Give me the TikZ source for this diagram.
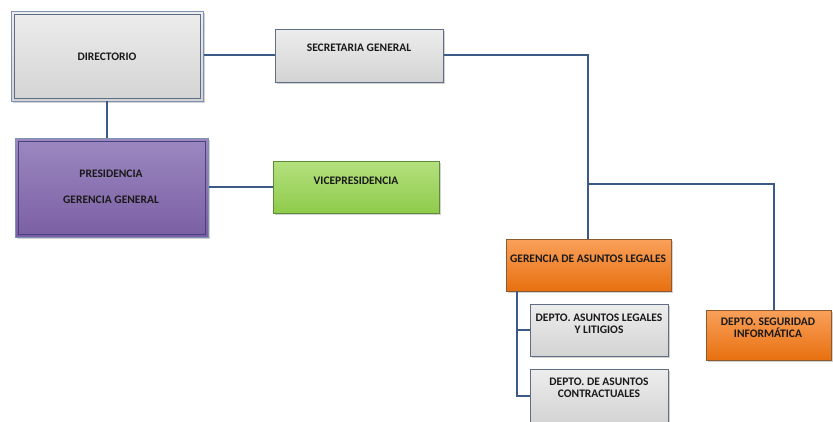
\documentclass[tikz,border=0pt]{standalone}
\usepackage{fontspec}
\setmainfont{Carlito}[BoldFont={Carlito Bold}]
\usetikzlibrary{positioning}
\definecolor{lnc}{HTML}{3B5A86}
\definecolor{gbord}{HTML}{5F6E84}
\definecolor{gtop}{HTML}{EDEDED}
\definecolor{gbot}{HTML}{D3D3D3}
\definecolor{ptop}{HTML}{9C88C0}
\definecolor{pbot}{HTML}{7A5FA4}
\definecolor{pbord}{HTML}{45427E}
\definecolor{vtop}{HTML}{B4E07E}
\definecolor{vbot}{HTML}{8ECB4B}
\definecolor{vbord}{HTML}{5E8A3A}
\definecolor{otop}{HTML}{F9A05A}
\definecolor{obot}{HTML}{E8700F}
\definecolor{obord}{HTML}{8A5A30}
\definecolor{dtop}{HTML}{7D92B5}
\tikzset{
  boxbase/.style={draw, line width=0.8pt, inner sep=0pt, anchor=north west},
  shadowed/.style={preaction={fill=black!35, opacity=0.5, transform canvas={xshift=2pt,yshift=-2pt}}},
  graybox/.style={boxbase, draw=gbord, top color=gtop, bottom color=gbot, shadowed},
  purplebox/.style={boxbase, draw=pbord, top color=ptop, bottom color=pbot, shadowed},
  greenbox/.style={boxbase, draw=vbord, top color=vtop, bottom color=vbot, shadowed},
  orangebox/.style={boxbase, draw=obord, top color=otop, bottom color=obot, shadowed},
  txt/.style={font=\bfseries\fontsize{11.5}{12.5}\selectfont, text=black!90, align=center, inner sep=0pt},
  conn/.style={draw=lnc, line width=1.3pt}
}
\begin{document}
\begin{tikzpicture}[x=1pt,y=-1pt]
\useasboundingbox (0,0) rectangle (833,421);
% boxes
\node[graybox, draw=dtop, minimum width=192pt, minimum height=90pt] (dir) at (11,11) {};
\draw[gbord, line width=0.8pt] (14,14) rectangle (200,98);
\node[graybox, minimum width=168pt, minimum height=53pt] (sec) at (275,29) {};
\node[purplebox, draw=dtop, minimum width=193pt, minimum height=99pt] (pres) at (15,138) {};
\draw[pbord, line width=0.8pt] (18,141) rectangle (205,234);
\node[greenbox, minimum width=166pt, minimum height=52pt] (vice) at (273,161) {};
\node[orangebox, minimum width=165pt, minimum height=52pt] (ger) at (506,239) {};
\node[graybox, minimum width=138pt, minimum height=52pt] (dal) at (530,304) {};
\node[graybox, minimum width=138pt, minimum height=54pt] (dac) at (530,369) {};
\node[orangebox, minimum width=125pt, minimum height=50pt] (dsi) at (706,310) {};
% texts
\node[txt] (dirt) at (107,57) {DIRECTORIO};
\node[txt] (sect) at (359,48) {SECRETARIA GENERAL};
\node[txt] (prest) at (111,174) {PRESIDENCIA};
\node[txt] (gergt) at (111,200) {GERENCIA GENERAL};
\node[txt] (vicet) at (356,181) {VICEPRESIDENCIA};
\node[txt] (gert) at (588,259) {GERENCIA DE ASUNTOS LEGALES};
\node[txt] (dalt) at (599,324) {DEPTO. ASUNTOS LEGALES\\Y LITIGIOS};
\node[txt] (dact) at (599,388) {DEPTO. DE ASUNTOS\\CONTRACTUALES};
\node[txt] (dsit) at (768,328) {DEPTO. SEGURIDAD\\INFORMÁTICA};
% connectors
\coordinate (j1) at (588,55);
\coordinate (j2) at (588,184);
\coordinate (j3) at (774,184);
\coordinate (k0) at (517,291);
\coordinate (k1) at (517,330);
\coordinate (k2) at (517,396);
\draw[conn] (dir.east |- 0,55) -- (sec.west |- 0,55);
\draw[conn] (107,101) -- (107,138);
\draw[conn] (pres.east |- 0,187) -- (vice.west |- 0,187);
\draw[conn] (sec.east |- 0,55) -- (j1) -- (j2) -- (j3) -- (dsi.north -| j3);
\draw[conn] (j2) -- (ger.north -| j2);
\draw[conn] (k0) -- (k2) -- (dac.west |- k2);
\draw[conn] (k1) -- (dal.west |- k1);
\end{tikzpicture}
\end{document}
